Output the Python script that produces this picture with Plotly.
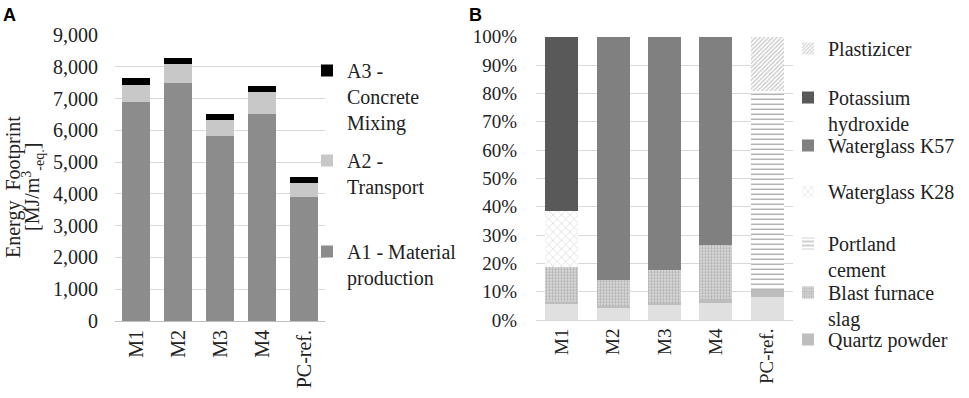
import plotly.graph_objects as go

categories = ["M1", "M2", "M3", "M4", "PC-ref."]

# Panel A: energy footprint [MJ/m3-eq.]
a1_material = [6880, 7500, 5820, 6500, 3910]
a2_transport = [560, 580, 500, 710, 420]
a3_mixing = [200, 190, 180, 180, 210]

# Panel B: shares [%]
other_share = [5.65, 4.35, 5.3, 5.9, 8.0]
quartz_share = [0.85, 0.65, 0.8, 1.4, 2.6]
slag_share = [12.3, 9.1, 11.6, 19.0, 0]
portland_share = [0, 0, 0, 0, 70.4]
k28_share = [19.7, 0, 0, 0, 0]
k57_share = [0, 85.9, 82.3, 73.7, 0]
koh_share = [61.5, 0, 0, 0, 0]
plast_share = [0, 0, 0, 0, 19.0]

W, H = 969, 398
def px(x):
    return x / W
def py(y):
    return 1 - y / H

SERIF = "Liberation Serif"

fig = go.Figure()

# ---- Panel A ----
fig.add_bar(x=categories, y=a1_material, name="A1 - Material<br>production",
            marker=dict(color="#8c8c8c", line=dict(width=0)), xaxis="x", yaxis="y", legend="legend3")
fig.add_bar(x=categories, y=a2_transport, name="A2 -<br>Transport",
            marker=dict(color="#c8c8c8", line=dict(width=0)), xaxis="x", yaxis="y", legend="legend2")
fig.add_bar(x=categories, y=a3_mixing, name="A3 -<br>Concrete<br>Mixing",
            marker=dict(color="#000000", line=dict(width=0)), xaxis="x", yaxis="y", legend="legend")

# ---- Panel B ----
def pct(v):
    return [x / 100 for x in v]

fig.add_bar(x=categories, y=pct(other_share), name="Other", showlegend=False,
            marker=dict(color="#e0e0e0", line=dict(width=0)), xaxis="x2", yaxis="y2")
fig.add_bar(x=categories, y=pct(quartz_share), name="Quartz powder",
            marker=dict(color="#bdbdbd", line=dict(width=0)), xaxis="x2", yaxis="y2", legend="legend10")
fig.add_bar(x=categories, y=pct(slag_share), name="Blast furnace<br>slag",
            marker=dict(color="#d0d0d0", line=dict(width=0),
                        pattern=dict(shape=".", fgcolor="#808080", bgcolor="#e2e2e2", size=3, solidity=0.5)),
            xaxis="x2", yaxis="y2", legend="legend9")
fig.add_bar(x=categories, y=pct(portland_share), name="Portland<br>cement",
            marker=dict(color="#ffffff", line=dict(width=0),
                        pattern=dict(shape="-", fgcolor="#2a2a2a", bgcolor="#ffffff", size=5, solidity=0.22)),
            xaxis="x2", yaxis="y2", legend="legend8")
fig.add_bar(x=categories, y=pct(k28_share), name="Waterglass K28",
            marker=dict(color="#ffffff", line=dict(width=0),
                        pattern=dict(shape="x", fgcolor="#a8a8a8", bgcolor="#ffffff", size=6, solidity=0.2)),
            xaxis="x2", yaxis="y2", legend="legend7")
fig.add_bar(x=categories, y=pct(k57_share), name="Waterglass K57",
            marker=dict(color="#808080", line=dict(width=0)), xaxis="x2", yaxis="y2", legend="legend6")
fig.add_bar(x=categories, y=pct(koh_share), name="Potassium<br>hydroxide",
            marker=dict(color="#595959", line=dict(width=0)), xaxis="x2", yaxis="y2", legend="legend5")
fig.add_bar(x=categories, y=pct(plast_share), name="Plastizicer",
            marker=dict(color="#ffffff", line=dict(width=0),
                        pattern=dict(shape="/", fgcolor="#8c8c8c", bgcolor="#ffffff", size=3, solidity=0.4)),
            xaxis="x2", yaxis="y2", legend="legend4")

grid = "#d9d9d9"
fig.update_layout(
    width=W, height=H, autosize=False,
    margin=dict(l=0, r=0, t=0, b=0, autoexpand=False),
    paper_bgcolor="white", plot_bgcolor="white",
    barmode="stack", showlegend=True,
    xaxis=dict(domain=[px(115), px(325)], anchor="y", tickangle=-90, automargin=False,
               tickfont=dict(family=SERIF, size=20, color="#222"),
               showline=True, linecolor="#bfbfbf", linewidth=1, ticks="", showgrid=False),
    yaxis=dict(domain=[py(321), py(35)], anchor="x", range=[0, 9000], dtick=1000, automargin=False,
               tickformat=",d", showgrid=True, gridcolor=grid, zeroline=False,
               tickfont=dict(family=SERIF, size=20, color="#222"), ticklabelstandoff=16),
    xaxis2=dict(domain=[px(536), px(793)], anchor="y2", tickangle=-90, automargin=False,
                tickfont=dict(family=SERIF, size=19, color="#222"),
                showline=True, linecolor="#d9d9d9", linewidth=1, ticks="", showgrid=False),
    yaxis2=dict(domain=[py(320), py(36.7)], anchor="x2", range=[0, 1], dtick=0.1, automargin=False,
                tickformat=".0%", showgrid=True, gridcolor=grid, zeroline=False,
                tickfont=dict(family=SERIF, size=19, color="#222"), ticklabelstandoff=18),
)

for tr in fig.data:
    tr.width = 0.64 if tr.xaxis == "x2" else 0.67

def leg(xtext, ytop, size):
    return dict(x=px(xtext - 40), y=py(ytop), xanchor="left", yanchor="top",
                bgcolor="rgba(0,0,0,0)", font=dict(family=SERIF, size=size, color="#222"),
                valign="top", itemwidth=30, tracegroupgap=0)

fig.update_layout(
    legend=leg(347, 51, 20),
    legend2=leg(347, 141, 20),
    legend3=leg(347, 232, 20),
    legend4=leg(828, 29, 20),
    legend5=leg(828, 78, 20),
    legend6=leg(828, 126, 20),
    legend7=leg(828, 172, 20),
    legend8=leg(828, 224, 20),
    legend9=leg(828, 273, 20),
    legend10=leg(828, 320, 20),
)

fig.add_annotation(text="Energy  Footprint", textangle=-90,
                   x=px(13), y=py(187), xref="paper", yref="paper", showarrow=False,
                   xanchor="center", yanchor="middle",
                   font=dict(family=SERIF, size=20, color="#222"))
fig.add_annotation(text="[MJ/m<sup>3</sup><sub>-eq.</sub>]", textangle=-90,
                   x=px(33), y=py(187), xref="paper", yref="paper", showarrow=False,
                   xanchor="center", yanchor="middle",
                   font=dict(family=SERIF, size=20, color="#222"))
fig.add_annotation(text="<b>A</b>", x=px(1), y=py(3), xref="paper", yref="paper",
                   xanchor="left", yanchor="top", showarrow=False,
                   font=dict(family="Liberation Sans", size=18, color="black"))
fig.add_annotation(text="<b>B</b>", x=px(467), y=py(3), xref="paper", yref="paper",
                   xanchor="left", yanchor="top", showarrow=False,
                   font=dict(family="Liberation Sans", size=18, color="black"))

fig.write_html("out.html", config={"displayModeBar": False},
               post_script="document.body.style.margin='0';")
